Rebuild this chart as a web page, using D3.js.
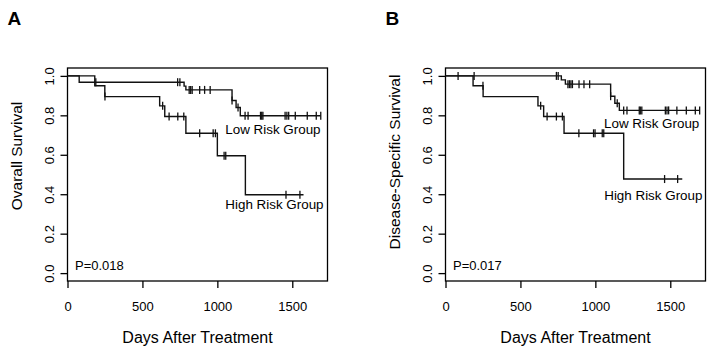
<!DOCTYPE html>
<html>
<head>
<meta charset="utf-8">
<script src="https://cdn.jsdelivr.net/npm/d3@7"></script>
<style>
  body { margin: 0; background: #fff; }
</style>
</head>
<body>
<div id="chart"></div>
<script>
var xTicks = [0, 500, 1000, 1500];
var yTicks = [0, 0.2, 0.4, 0.6, 0.8, 1.0];

// A: overall survival (event days / survival after event, censored days)
var osLowTime = [78, 778, 790, 1098, 1125, 1153];
var osLowSurv = [0.968, 0.948, 0.929, 0.875, 0.84, 0.798];
var osLowCens = [189, 735, 750, 812, 822, 832, 882, 915, 952, 1098, 1138, 1185, 1205,
                 1288, 1296, 1304, 1452, 1464, 1476, 1520, 1600, 1660, 1690];
var osLowEnd = 1690;
var osHighTime = [182, 249, 615, 649, 790, 1000, 1187];
var osHighSurv = [0.95, 0.895, 0.848, 0.794, 0.709, 0.595, 0.397];
var osHighCens = [250, 635, 678, 736, 776, 882, 972, 987, 1045, 1056, 1458, 1551];
var osHighEnd = 1575;

// B: disease-specific survival
var dssLowTime = [773, 800, 1102, 1130, 1160];
var dssLowSurv = [0.98, 0.958, 0.897, 0.861, 0.825];
var dssLowCens = [84, 191, 740, 752, 817, 827, 837, 847, 891, 924, 962, 1102, 1146, 1189, 1211,
                  1293, 1300, 1310, 1467, 1478, 1489, 1544, 1607, 1667, 1696];
var dssLowEnd = 1696;
var dssHighTime = [184, 251, 617, 655, 791, 1189];
var dssHighSurv = [0.95, 0.895, 0.848, 0.794, 0.709, 0.477];
var dssHighCens = [250, 635, 678, 740, 780, 890, 988, 998, 1046, 1056, 1462, 1549];
var dssHighEnd = 1580;

var groupLabels = ["Low Risk Group", "High Risk Group"];

var width = 714,
  height = 354;
var font = 'Arial, "Liberation Sans", sans-serif';

var svg = d3.select('#chart')
  .append('svg')
  .attr('width', width)
  .attr('height', height)
  .style('font-family', font);

function survAt(times, surv, t) {
  var s = 1;
  times.forEach((d, i) => { if (d <= t) s = surv[i]; });
  return s;
}

function drawPanel(p) {
  var top = 68, bottom = 281;
  var x = d3.scaleLinear().domain([0, 1735]).range([p.left, p.left + 260]);
  var y = d3.scaleLinear().domain([-0.04, 1.04]).range([bottom, top]);
  var g = svg.append('g');

  // x axis
  var xa = g.append('g')
    .attr('transform', `translate(0,${bottom})`)
    .call(d3.axisBottom(x).tickValues(xTicks).tickSize(7).tickSizeOuter(0)
      .tickPadding(14).tickFormat(d3.format('d')));
  xa.select('.domain').remove();
  xa.selectAll('line').attr('stroke', '#000').attr('stroke-width', 1.3);
  xa.selectAll('text').style('font-size', '13px').attr('fill', '#000')
    .style('font-family', font);

  // y axis, labels rotated like R
  var ya = g.append('g')
    .attr('transform', `translate(${p.left},0)`)
    .call(d3.axisLeft(y).tickValues(yTicks).tickSize(7).tickSizeOuter(0).tickFormat(d3.format('.1f')));
  ya.select('.domain').remove();
  ya.selectAll('line').attr('stroke', '#000').attr('stroke-width', 1.3);
  ya.selectAll('text')
    .attr('x', null).attr('dy', null)
    .attr('text-anchor', 'middle')
    .attr('transform', 'translate(-14,0) rotate(-90)')
    .attr('fill', '#000')
    .style('font-size', '13px')
    .style('font-family', font);

  // box
  g.append('rect')
    .attr('x', p.left).attr('y', top)
    .attr('width', 260).attr('height', bottom - top)
    .attr('fill', 'none').attr('stroke', '#000').attr('stroke-width', 1.3);

  var line = d3.line()
    .x(d => x(d[0]))
    .y(d => y(d[1]))
    .curve(d3.curveStepAfter);

  p.groups.forEach(gr => {
    var pts = [[0, 1]].concat(gr.time.map((t, i) => [t, gr.surv[i]]));
    pts.push([gr.end, gr.surv[gr.surv.length - 1]]);
    g.append('path')
      .attr('d', line(pts))
      .attr('fill', 'none')
      .attr('stroke', '#111')
      .attr('stroke-width', 1.4);

    g.append('g').selectAll('line')
      .data(gr.cens)
      .enter()
      .append('line')
      .attr('x1', d => x(d)).attr('x2', d => x(d))
      .attr('y1', d => y(survAt(gr.time, gr.surv, d)) - 4)
      .attr('y2', d => y(survAt(gr.time, gr.surv, d)) + 4)
      .attr('stroke', '#111')
      .attr('stroke-width', 1.3);

    g.append('text')
      .attr('x', x(gr.labelAt[0]))
      .attr('y', y(gr.labelAt[1]))
      .attr('text-anchor', 'middle')
      .style('font-size', '13.4px')
      .attr('fill', '#000')
      .text(gr.label);
  });

  g.append('text')
    .attr('x', x(50)).attr('y', y(0.016))
    .style('font-size', '13px')
    .attr('fill', '#000')
    .text(p.pval);

  g.append('text')
    .attr('x', x(867.5)).attr('y', 343)
    .attr('text-anchor', 'middle')
    .style('font-size', '16px')
    .attr('fill', '#000')
    .text('Days After Treatment');

  g.append('text')
    .attr('transform', `translate(${p.left - 46},${p.ylabY}) rotate(-90)`)
    .attr('text-anchor', 'middle')
    .style('font-size', '15.5px')
    .attr('fill', '#000')
    .text(p.ylab);

  g.append('text')
    .attr('x', p.left - 60).attr('y', 25)
    .style('font-size', '19px')
    .style('font-weight', 'bold')
    .attr('fill', '#000')
    .text(p.tag);
}

drawPanel({
  left: 67.5, tag: 'A', ylab: 'Ovarall Survival', ylabY: 156, pval: 'P=0.018',
  groups: [
    { time: osLowTime, surv: osLowSurv, cens: osLowCens, end: osLowEnd, label: groupLabels[0], labelAt: [1371, 0.705] },
    { time: osHighTime, surv: osHighSurv, cens: osHighCens, end: osHighEnd, label: groupLabels[1], labelAt: [1381, 0.324] }
  ]
});

drawPanel({
  left: 445.5, tag: 'B', ylab: 'Disease-Specific Survival', ylabY: 162, pval: 'P=0.017',
  groups: [
    { time: dssLowTime, surv: dssLowSurv, cens: dssLowCens, end: dssLowEnd, label: groupLabels[0], labelAt: [1376, 0.736] },
    { time: dssHighTime, surv: dssHighSurv, cens: dssHighCens, end: dssHighEnd, label: groupLabels[1], labelAt: [1387, 0.371] }
  ]
});
</script>
</body>
</html>
